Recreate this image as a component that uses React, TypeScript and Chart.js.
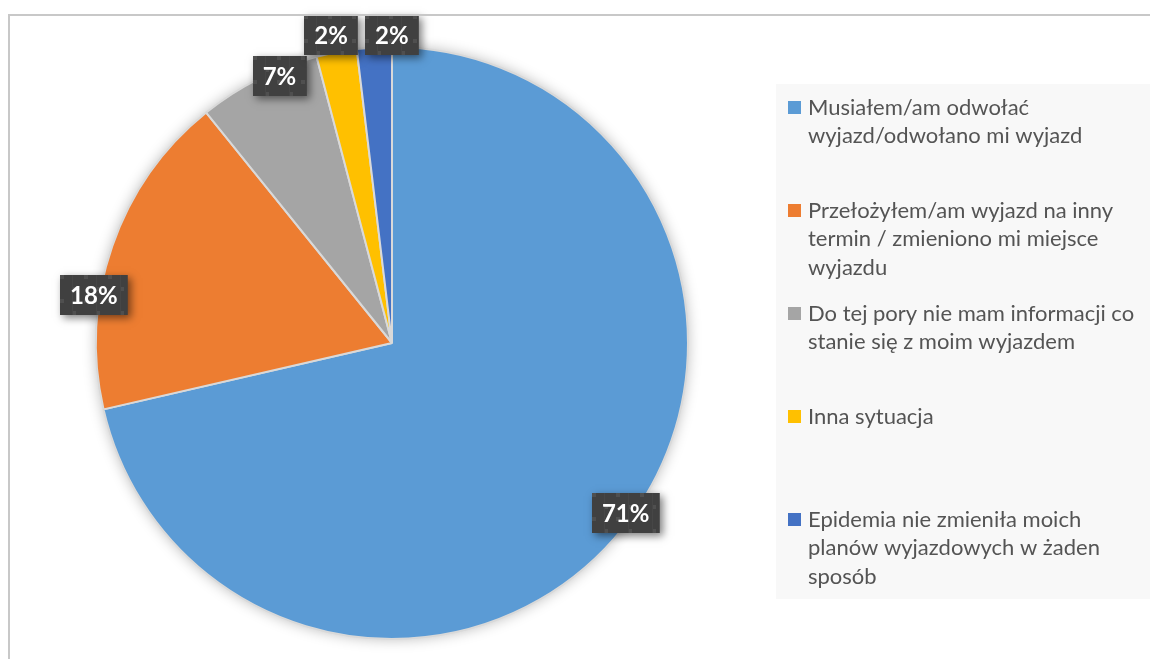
import React, { useEffect, useRef } from "react";
import { Chart, registerables } from "chart.js";

Chart.register(...registerables);

// ---- data ----
const categories: string[][] = [
  ["Musiałem/am odwołać", "wyjazd/odwołano mi wyjazd"],
  ["Przełożyłem/am wyjazd na inny", "termin / zmieniono mi miejsce", "wyjazdu"],
  ["Do tej pory nie mam informacji co", "stanie się z moim wyjazdem"],
  ["Inna sytuacja"],
  ["Epidemia nie zmieniła moich", "planów wyjazdowych w żaden", "sposób"],
];
const values = [71.4, 17.8, 6.7, 2.2, 1.9];
const colors = ["#5B9BD5", "#ED7D31", "#A5A5A5", "#FFC000", "#4472C4"];

// label placement (best-fit style): radial factor and angular nudge in degrees
const labelRadius = [0.976, 1.02, 0.98, 1.06, 1.04];
const labelAngleShift = [-2.5, -10, 4, -0.4, 3.4];

const W = 1150;
const H = 659;

function makePattern(ctx: CanvasRenderingContext2D): CanvasPattern | string {
  const c = document.createElement("canvas");
  c.width = 24;
  c.height = 24;
  const p = c.getContext("2d");
  if (!p) return "#404040";
  p.fillStyle = "#404040";
  p.fillRect(0, 0, 24, 24);
  p.fillStyle = "#4f4f4f";
  p.fillRect(0, 0, 4, 4);
  p.fillRect(12, 12, 4, 4);
  p.fillStyle = "#464646";
  p.fillRect(12, 0, 1, 24);
  const pat = ctx.createPattern(c, "repeat");
  return pat || "#404040";
}

const pieShadow = {
  id: "pieShadow",
  beforeDatasetsDraw(chart: any) {
    const meta = chart.getDatasetMeta(0);
    const arc = meta.data[0];
    if (!arc) return;
    const { x, y, outerRadius } = arc.getProps(["x", "y", "outerRadius"], true);
    const ctx = chart.ctx as CanvasRenderingContext2D;
    ctx.save();
    ctx.shadowColor = "rgba(0,0,0,0.28)";
    ctx.shadowBlur = 14;
    ctx.shadowOffsetX = 0;
    ctx.shadowOffsetY = 0;
    ctx.beginPath();
    ctx.arc(x, y, outerRadius, 0, Math.PI * 2);
    ctx.fillStyle = "#ffffff";
    ctx.fill();
    ctx.restore();
  },
};

const boxLabels = {
  id: "boxLabels",
  afterDatasetsDraw(chart: any) {
    const ctx = chart.ctx as CanvasRenderingContext2D;
    const meta = chart.getDatasetMeta(0);
    const data = chart.data.datasets[0].data as number[];
    const pattern = makePattern(ctx);
    ctx.save();
    ctx.font = "bold 24px Lato, 'Open Sans', sans-serif";
    meta.data.forEach((arc: any, i: number) => {
      const { x, y, startAngle, endAngle, outerRadius } = arc.getProps(
        ["x", "y", "startAngle", "endAngle", "outerRadius"],
        true
      );
      const mid = (startAngle + endAngle) / 2 + (labelAngleShift[i] * Math.PI) / 180;
      const r = outerRadius * labelRadius[i];
      const cx = x + Math.cos(mid) * r;
      const cy = y + Math.sin(mid) * r;
      const text = Math.round(data[i]) + "%";
      const tw = ctx.measureText(text).width;
      const bw = tw + 20;
      const bh = 40;
      const bx = Math.round(cx - bw / 2);
      const by = Math.round(cy - bh / 2);
      ctx.save();
      ctx.shadowColor = "rgba(0,0,0,0.5)";
      ctx.shadowBlur = 8;
      ctx.shadowOffsetX = 3;
      ctx.shadowOffsetY = 3;
      ctx.fillStyle = "#404040";
      ctx.fillRect(bx, by, bw, bh);
      ctx.restore();
      ctx.save();
      ctx.translate(bx, by);
      ctx.fillStyle = pattern as any;
      ctx.fillRect(0, 0, bw, bh);
      ctx.restore();
      ctx.fillStyle = "#ffffff";
      ctx.textAlign = "center";
      ctx.textBaseline = "middle";
      ctx.fillText(text, cx, by + bh / 2 + 1);
    });
    ctx.restore();
  },
};

const sideLegend = {
  id: "sideLegend",
  afterDraw(chart: any) {
    const ctx = chart.ctx as CanvasRenderingContext2D;
    const labels = chart.data.labels as string[][];
    const bg = chart.data.datasets[0].backgroundColor as string[];
    const lx = 776;
    const ly = 84;
    const lw = W - lx;
    const lh = 515;
    ctx.save();
    ctx.fillStyle = "#f8f8f8";
    ctx.fillRect(lx, ly, lw, lh);
    const slot = lh / labels.length;
    ctx.font = "22px Lato, 'Open Sans', sans-serif";
    ctx.textBaseline = "middle";
    ctx.textAlign = "left";
    labels.forEach((lines, i) => {
      const top = ly + slot * i + 23.5;
      ctx.fillStyle = bg[i];
      ctx.fillRect(788, Math.round(top - 6.5), 13, 13);
      ctx.fillStyle = "#545454";
      lines.forEach((line, j) => {
        ctx.fillText(line, 808, top + j * 28.5);
      });
    });
    ctx.restore();
  },
};

export default function App() {
  const ref = useRef<HTMLCanvasElement | null>(null);

  useEffect(() => {
    if (!ref.current) return;
    const chart = new Chart(ref.current, {
      type: "pie",
      data: {
        labels: categories,
        datasets: [
          {
            data: values,
            backgroundColor: colors,
            borderColor: "#d9d9d9",
            borderWidth: 2,
          },
        ],
      },
      options: {
        responsive: false,
        animation: false,
        devicePixelRatio: 1,
        layout: {
          padding: { left: 95, right: 461, top: 46, bottom: 19 },
        },
        plugins: {
          legend: { display: false },
          tooltip: { enabled: false },
        },
      },
      plugins: [pieShadow, boxLabels, sideLegend],
    });
    return () => chart.destroy();
  }, []);

  return (
    <div
      style={{
        position: "fixed",
        left: 0,
        top: 0,
        width: W,
        height: H,
        background: "#ffffff",
        overflow: "hidden",
      }}
    >
      <canvas ref={ref} width={W} height={H} style={{ display: "block", width: W, height: H }} />
      <div
        style={{
          position: "absolute",
          left: 8,
          top: 14,
          width: W,
          height: H,
          borderTop: "2px solid #c8c8c8",
          borderLeft: "2px solid #c8c8c8",
          pointerEvents: "none",
        }}
      />
    </div>
  );
}
